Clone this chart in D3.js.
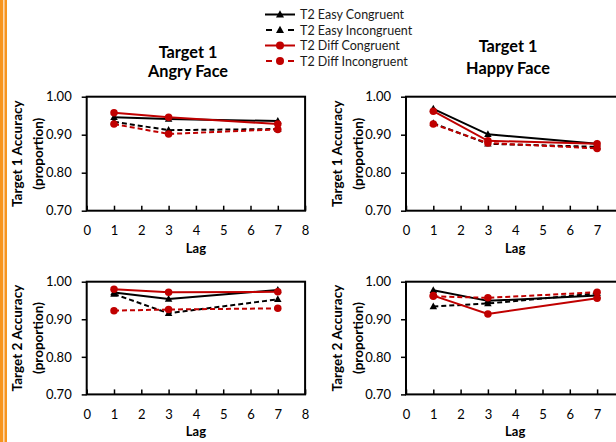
<!DOCTYPE html>
<html>
<head>
<meta charset="utf-8">
<script src="https://cdn.jsdelivr.net/npm/d3@7"></script>
<style>
  html, body { margin: 0; padding: 0; background: #fff; }
  svg { display: block; font-family: Lato, "Open Sans", sans-serif; }
</style>
</head>
<body>
<svg id="chart" width="616" height="442"></svg>
<script>
// ---- Data ----
const lags = [1, 3, 7];
const xTicks = [0, 1, 2, 3, 4, 5, 6, 7, 8];
const yTicks = [0.70, 0.80, 0.90, 1.00];
const seriesNames = ["T2 Easy Congruent", "T2 Easy Incongruent", "T2 Diff Congruent", "T2 Diff Incongruent"];

// Target 1 accuracy, angry face
const t1AngryEasyCong   = [0.946, 0.941, 0.936];
const t1AngryEasyIncong = [0.934, 0.912, 0.915];
const t1AngryDiffCong   = [0.958, 0.946, 0.928];
const t1AngryDiffIncong = [0.928, 0.902, 0.914];
// Target 1 accuracy, happy face
const t1HappyEasyCong   = [0.968, 0.901, 0.876];
const t1HappyEasyIncong = [0.930, 0.876, 0.868];
const t1HappyDiffCong   = [0.962, 0.884, 0.876];
const t1HappyDiffIncong = [0.928, 0.878, 0.864];
// Target 2 accuracy, angry face
const t2AngryEasyCong   = [0.971, 0.954, 0.978];
const t2AngryEasyIncong = [0.967, 0.916, 0.953];
const t2AngryDiffCong   = [0.980, 0.972, 0.973];
const t2AngryDiffIncong = [0.923, 0.926, 0.929];
// Target 2 accuracy, happy face
const t2HappyEasyCong   = [0.977, 0.949, 0.963];
const t2HappyEasyIncong = [0.934, 0.942, 0.969];
const t2HappyDiffCong   = [0.963, 0.914, 0.956];
const t2HappyDiffIncong = [0.961, 0.957, 0.972];

// ---- Styles ----
const RED = "#C00000";
const styles = [
  { color: "#000", dash: null,  marker: "triangle" },
  { color: "#000", dash: "5,3", marker: "triangle" },
  { color: RED,    dash: null,  marker: "circle" },
  { color: RED,    dash: "5,3", marker: "circle" }
];

const W = 616;
const panels = [
  { x: 86.7, y: 96.7, h: 114, title: ["Target 1", "Angry Face"], titleX: 188, titleY: [52, 71],
    ylab: ["Target 1 Accuracy", "(proportion)"], labX: [17, 38],
    data: [t1AngryEasyCong, t1AngryEasyIncong, t1AngryDiffCong, t1AngryDiffIncong] },
  { x: 406, y: 96.7, h: 114, title: ["Target 1", "Happy Face"], titleX: 508, titleY: [46.5, 68],
    ylab: ["Target 1 Accuracy", "(proportion)"], labX: [337, 358],
    data: [t1HappyEasyCong, t1HappyEasyIncong, t1HappyDiffCong, t1HappyDiffIncong] },
  { x: 86.7, y: 281.7, h: 112.7, title: null,
    ylab: ["Target 2 Accuracy", "(proportion)"], labX: [17, 38],
    data: [t2AngryEasyCong, t2AngryEasyIncong, t2AngryDiffCong, t2AngryDiffIncong] },
  { x: 406, y: 281.7, h: 112.7, title: null,
    ylab: ["Target 2 Accuracy", "(proportion)"], labX: [337, 358],
    data: [t2HappyEasyCong, t2HappyEasyIncong, t2HappyDiffCong, t2HappyDiffIncong] }
];
const PW = 218.4;

const svg = d3.select("#chart");

// orange stripe on the left
svg.append("rect").attr("x", 0).attr("y", 0).attr("width", 3.3).attr("height", 442).attr("fill", "#F7941D");
svg.append("rect").attr("x", 3.3).attr("y", 0).attr("width", 1.2).attr("height", 442).attr("fill", "#FCD3A5");
svg.append("rect").attr("x", 4.5).attr("y", 0).attr("width", 2.5).attr("height", 442).attr("fill", "#F7941D");

function marker(g, type, cx, cy, color, size) {
  if (type === "circle") {
    g.append("circle").attr("cx", cx).attr("cy", cy).attr("r", size / 2).attr("fill", color);
  } else {
    const s = size;
    const h = s * 0.9;
    g.append("path")
      .attr("d", `M${cx},${cy - h * 0.6}L${cx + s / 2},${cy + h * 0.4}L${cx - s / 2},${cy + h * 0.4}Z`)
      .attr("fill", color);
  }
}

panels.forEach(p => {
  const x = d3.scaleLinear().domain([0, 8]).range([p.x, p.x + PW]);
  const y = d3.scaleLinear().domain([0.7, 1.0]).range([p.y + p.h, p.y]);
  const g = svg.append("g");

  // frame
  g.append("rect").attr("x", p.x).attr("y", p.y).attr("width", PW).attr("height", p.h)
    .attr("fill", "none").attr("stroke", "#000").attr("stroke-width", 2);

  // y axis
  const ya = g.append("g").attr("transform", `translate(${p.x},0)`)
    .call(d3.axisLeft(y).tickValues(yTicks).tickFormat(d3.format(".2f")).tickSize(5).tickSizeOuter(0).tickPadding(10));
  ya.select(".domain").remove();
  ya.selectAll("line").attr("stroke", "#000").attr("stroke-width", 1.5);
  ya.selectAll("text").attr("font-size", 13).attr("fill", "#000").attr("font-family", "Lato");

  // x axis (labels that fall outside the page are cropped away, as in the reference)
  const visTicks = xTicks.filter(t => x(t) + 4 < W);
  const xa = g.append("g").attr("transform", `translate(0,${p.y + p.h})`)
    .call(d3.axisBottom(x).tickValues(visTicks).tickFormat(d3.format("d")).tickSize(-5).tickSizeOuter(0).tickPadding(15));
  xa.select(".domain").remove();
  xa.selectAll("line").attr("stroke", "#000").attr("stroke-width", 1.5);
  xa.selectAll("text").attr("font-size", 13).attr("fill", "#000").attr("font-family", "Lato");

  // Lag label
  g.append("text").attr("x", p.x + PW / 2).attr("y", p.y + p.h + 42)
    .attr("text-anchor", "middle").attr("font-size", 13).attr("font-weight", "bold").text("Lag");

  // y label
  const cy = p.y + p.h / 2;
  p.ylab.forEach((t, i) => {
    g.append("text").attr("transform", `translate(${p.labX[i] + 5},${cy}) rotate(-90)`)
      .attr("text-anchor", "middle").attr("font-size", 13.5).attr("font-weight", "bold").text(t);
  });

  // title
  if (p.title) {
    p.title.forEach((t, i) => {
      g.append("text").attr("x", p.titleX).attr("y", p.titleY[i] + 5.5)
        .attr("text-anchor", "middle").attr("font-size", 16.3).attr("font-weight", "bold").text(t);
    });
  }

  // series
  const line = d3.line().x((d, i) => x(lags[i])).y(d => y(d));
  p.data.forEach((vals, si) => {
    const st = styles[si];
    g.append("path").attr("d", line(vals)).attr("fill", "none")
      .attr("stroke", st.color).attr("stroke-width", 2)
      .attr("stroke-dasharray", st.dash);
    vals.forEach((v, i) => marker(g, st.marker, x(lags[i]), y(v), st.color, 7.5));
  });
});

// legend
const leg = svg.append("g");
const legY = [14.5, 30, 45.5, 61];
seriesNames.forEach((name, i) => {
  const st = styles[i];
  const yy = legY[i];
  if (st.dash) {
    leg.append("line").attr("x1", 266).attr("x2", 272).attr("y1", yy).attr("y2", yy)
      .attr("stroke", st.color).attr("stroke-width", 2);
    leg.append("line").attr("x1", 288).attr("x2", 294).attr("y1", yy).attr("y2", yy)
      .attr("stroke", st.color).attr("stroke-width", 2);
  } else {
    leg.append("line").attr("x1", 265).attr("x2", 295).attr("y1", yy).attr("y2", yy)
      .attr("stroke", st.color).attr("stroke-width", 2);
  }
  marker(leg, st.marker, 280, yy, st.color, 8);
  leg.append("text").attr("x", 300).attr("y", yy + 4.5).attr("font-size", 12.5)
    .attr("fill", "#1a1a1a").text(name);
});
</script>
</body>
</html>
